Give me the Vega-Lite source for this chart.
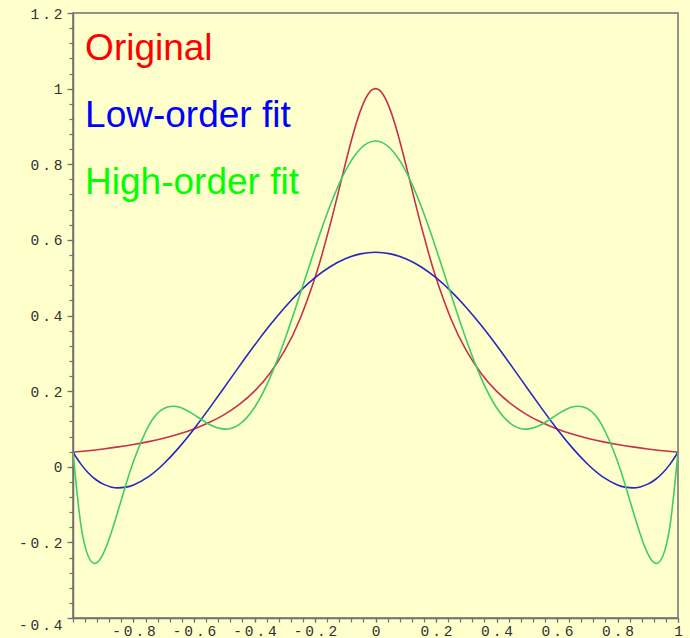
{
  "$schema": "https://vega.github.io/schema/vega-lite/v6.json",
  "autosize": {"type": "none"},
  "padding": {"left": 73, "top": 13, "right": 12, "bottom": 20},
  "width": 605,
  "height": 605,
  "background": "#ffffcc",
  "config": {
    "view": {"stroke": "#707070", "strokeWidth": 1.5, "fill": "#ffffcc"},
    "axis": {"title": null, "grid": false, "domainColor": "#707070", "domainWidth": 1.5, "tickColor": "#707070", "tickWidth": 1.2, "labelFont": "Liberation Mono", "labelFontSize": 14.5, "labelColor": "#303030", "labelFlush": false, "labelOverlap": false, "labelBound": false}
  },
  "datasets": {
    "curves": [
      {"s": "Original", "x": -1, "y": 0.0385}, {"s": "Original", "x": -0.95, "y": 0.0424}, {"s": "Original", "x": -0.9, "y": 0.0471}, {"s": "Original", "x": -0.85, "y": 0.0525}, {"s": "Original", "x": -0.8, "y": 0.0588}, {"s": "Original", "x": -0.75, "y": 0.0664}, {"s": "Original", "x": -0.7, "y": 0.0755}, {"s": "Original", "x": -0.65, "y": 0.0865}, {"s": "Original", "x": -0.6, "y": 0.1}, {"s": "Original", "x": -0.55, "y": 0.1168}, {"s": "Original", "x": -0.5, "y": 0.1379}, {"s": "Original", "x": -0.45, "y": 0.1649}, {"s": "Original", "x": -0.4, "y": 0.2}, {"s": "Original", "x": -0.35, "y": 0.2462}, {"s": "Original", "x": -0.3, "y": 0.3077}, {"s": "Original", "x": -0.25, "y": 0.3902}, {"s": "Original", "x": -0.2, "y": 0.5}, {"s": "Original", "x": -0.175, "y": 0.5664}, {"s": "Original", "x": -0.15, "y": 0.64}, {"s": "Original", "x": -0.125, "y": 0.7191}, {"s": "Original", "x": -0.1, "y": 0.8}, {"s": "Original", "x": -0.075, "y": 0.8767}, {"s": "Original", "x": -0.05, "y": 0.9412}, {"s": "Original", "x": -0.025, "y": 0.9846},
      {"s": "Original", "x": 0, "y": 1},
      {"s": "Original", "x": 0.025, "y": 0.9846}, {"s": "Original", "x": 0.05, "y": 0.9412}, {"s": "Original", "x": 0.075, "y": 0.8767}, {"s": "Original", "x": 0.1, "y": 0.8}, {"s": "Original", "x": 0.125, "y": 0.7191}, {"s": "Original", "x": 0.15, "y": 0.64}, {"s": "Original", "x": 0.175, "y": 0.5664}, {"s": "Original", "x": 0.2, "y": 0.5}, {"s": "Original", "x": 0.25, "y": 0.3902}, {"s": "Original", "x": 0.3, "y": 0.3077}, {"s": "Original", "x": 0.35, "y": 0.2462}, {"s": "Original", "x": 0.4, "y": 0.2}, {"s": "Original", "x": 0.45, "y": 0.1649}, {"s": "Original", "x": 0.5, "y": 0.1379}, {"s": "Original", "x": 0.55, "y": 0.1168}, {"s": "Original", "x": 0.6, "y": 0.1}, {"s": "Original", "x": 0.65, "y": 0.0865}, {"s": "Original", "x": 0.7, "y": 0.0755}, {"s": "Original", "x": 0.75, "y": 0.0664}, {"s": "Original", "x": 0.8, "y": 0.0588}, {"s": "Original", "x": 0.85, "y": 0.0525}, {"s": "Original", "x": 0.9, "y": 0.0471}, {"s": "Original", "x": 0.95, "y": 0.0424}, {"s": "Original", "x": 1, "y": 0.0385},

      {"s": "Low-order fit", "x": -1, "y": 0.0385}, {"s": "Low-order fit", "x": -0.975, "y": 0.0082}, {"s": "Low-order fit", "x": -0.95, "y": -0.0157}, {"s": "Low-order fit", "x": -0.925, "y": -0.0337}, {"s": "Low-order fit", "x": -0.9, "y": -0.046}, {"s": "Low-order fit", "x": -0.875, "y": -0.0533}, {"s": "Low-order fit", "x": -0.85, "y": -0.0558}, {"s": "Low-order fit", "x": -0.825, "y": -0.0539}, {"s": "Low-order fit", "x": -0.8, "y": -0.0481}, {"s": "Low-order fit", "x": -0.75, "y": -0.026}, {"s": "Low-order fit", "x": -0.7, "y": 0.0078}, {"s": "Low-order fit", "x": -0.65, "y": 0.0506}, {"s": "Low-order fit", "x": -0.6, "y": 0.1}, {"s": "Low-order fit", "x": -0.55, "y": 0.1537}, {"s": "Low-order fit", "x": -0.5, "y": 0.2097}, {"s": "Low-order fit", "x": -0.45, "y": 0.2661}, {"s": "Low-order fit", "x": -0.4, "y": 0.3212}, {"s": "Low-order fit", "x": -0.35, "y": 0.3733}, {"s": "Low-order fit", "x": -0.3, "y": 0.4213}, {"s": "Low-order fit", "x": -0.25, "y": 0.4638}, {"s": "Low-order fit", "x": -0.2, "y": 0.5}, {"s": "Low-order fit", "x": -0.15, "y": 0.529}, {"s": "Low-order fit", "x": -0.1, "y": 0.5501}, {"s": "Low-order fit", "x": -0.05, "y": 0.563},
      {"s": "Low-order fit", "x": 0, "y": 0.5673},
      {"s": "Low-order fit", "x": 0.05, "y": 0.563}, {"s": "Low-order fit", "x": 0.1, "y": 0.5501}, {"s": "Low-order fit", "x": 0.15, "y": 0.529}, {"s": "Low-order fit", "x": 0.2, "y": 0.5}, {"s": "Low-order fit", "x": 0.25, "y": 0.4638}, {"s": "Low-order fit", "x": 0.3, "y": 0.4213}, {"s": "Low-order fit", "x": 0.35, "y": 0.3733}, {"s": "Low-order fit", "x": 0.4, "y": 0.3212}, {"s": "Low-order fit", "x": 0.45, "y": 0.2661}, {"s": "Low-order fit", "x": 0.5, "y": 0.2097}, {"s": "Low-order fit", "x": 0.55, "y": 0.1537}, {"s": "Low-order fit", "x": 0.6, "y": 0.1}, {"s": "Low-order fit", "x": 0.65, "y": 0.0506}, {"s": "Low-order fit", "x": 0.7, "y": 0.0078}, {"s": "Low-order fit", "x": 0.75, "y": -0.026}, {"s": "Low-order fit", "x": 0.8, "y": -0.0481}, {"s": "Low-order fit", "x": 0.825, "y": -0.0539}, {"s": "Low-order fit", "x": 0.85, "y": -0.0558}, {"s": "Low-order fit", "x": 0.875, "y": -0.0533}, {"s": "Low-order fit", "x": 0.9, "y": -0.046}, {"s": "Low-order fit", "x": 0.925, "y": -0.0337}, {"s": "Low-order fit", "x": 0.95, "y": -0.0157}, {"s": "Low-order fit", "x": 0.975, "y": 0.0082}, {"s": "Low-order fit", "x": 1, "y": 0.0385},

      {"s": "High-order fit", "x": -1, "y": 0.0385}, {"s": "High-order fit", "x": -0.975, "y": -0.148}, {"s": "High-order fit", "x": -0.95, "y": -0.2361}, {"s": "High-order fit", "x": -0.925, "y": -0.2554}, {"s": "High-order fit", "x": -0.9, "y": -0.23}, {"s": "High-order fit", "x": -0.875, "y": -0.1781}, {"s": "High-order fit", "x": -0.85, "y": -0.1138}, {"s": "High-order fit", "x": -0.825, "y": -0.0472}, {"s": "High-order fit", "x": -0.8, "y": 0.0147}, {"s": "High-order fit", "x": -0.75, "y": 0.1084}, {"s": "High-order fit", "x": -0.7, "y": 0.154}, {"s": "High-order fit", "x": -0.65, "y": 0.1581}, {"s": "High-order fit", "x": -0.6, "y": 0.1377}, {"s": "High-order fit", "x": -0.55, "y": 0.1123}, {"s": "High-order fit", "x": -0.5, "y": 0.0995}, {"s": "High-order fit", "x": -0.45, "y": 0.1122}, {"s": "High-order fit", "x": -0.4, "y": 0.1566}, {"s": "High-order fit", "x": -0.35, "y": 0.233}, {"s": "High-order fit", "x": -0.3, "y": 0.3356}, {"s": "High-order fit", "x": -0.25, "y": 0.4546}, {"s": "High-order fit", "x": -0.2, "y": 0.5775}, {"s": "High-order fit", "x": -0.15, "y": 0.6907}, {"s": "High-order fit", "x": -0.1, "y": 0.782}, {"s": "High-order fit", "x": -0.05, "y": 0.8411},
      {"s": "High-order fit", "x": 0, "y": 0.8615},
      {"s": "High-order fit", "x": 0.05, "y": 0.8411}, {"s": "High-order fit", "x": 0.1, "y": 0.782}, {"s": "High-order fit", "x": 0.15, "y": 0.6907}, {"s": "High-order fit", "x": 0.2, "y": 0.5775}, {"s": "High-order fit", "x": 0.25, "y": 0.4546}, {"s": "High-order fit", "x": 0.3, "y": 0.3356}, {"s": "High-order fit", "x": 0.35, "y": 0.233}, {"s": "High-order fit", "x": 0.4, "y": 0.1566}, {"s": "High-order fit", "x": 0.45, "y": 0.1122}, {"s": "High-order fit", "x": 0.5, "y": 0.0995}, {"s": "High-order fit", "x": 0.55, "y": 0.1123}, {"s": "High-order fit", "x": 0.6, "y": 0.1377}, {"s": "High-order fit", "x": 0.65, "y": 0.1581}, {"s": "High-order fit", "x": 0.7, "y": 0.154}, {"s": "High-order fit", "x": 0.75, "y": 0.1084}, {"s": "High-order fit", "x": 0.8, "y": 0.0147}, {"s": "High-order fit", "x": 0.825, "y": -0.0472}, {"s": "High-order fit", "x": 0.85, "y": -0.1138}, {"s": "High-order fit", "x": 0.875, "y": -0.1781}, {"s": "High-order fit", "x": 0.9, "y": -0.23}, {"s": "High-order fit", "x": 0.925, "y": -0.2554}, {"s": "High-order fit", "x": 0.95, "y": -0.2361}, {"s": "High-order fit", "x": 0.975, "y": -0.148}, {"s": "High-order fit", "x": 1, "y": 0.0385}
    ],
    "labels": [
      {"s": "Original", "x": -0.96, "y": 1.075},
      {"s": "Low-order fit", "x": -0.96, "y": 0.8976},
      {"s": "High-order fit", "x": -0.96, "y": 0.7222}
    ]
  },
  "layer": [
    {
      "data": {"name": "curves"},
      "mark": {"type": "line", "interpolate": "natural", "strokeWidth": 1.6, "clip": true},
      "encoding": {
        "x": {"field": "x", "type": "quantitative",
          "scale": {"domain": [-1, 1], "nice": false, "zero": false},
          "axis": {
            "orient": "bottom",
            "labelOverlap": false,
            "labelFlush": false,
            "values": [-0.8, -0.6, -0.4, -0.2, 0, 0.2, 0.4, 0.6, 0.8, 1],
            "labelExpr": "join(split(replace(format(datum.value, '~g'), '−', '-'), ''), '\u2009')",
            "tickSize": 4,
            "labelPadding": 2
          }
        },
        "y": {"field": "y", "type": "quantitative",
          "scale": {"domain": [-0.4, 1.2], "nice": false, "zero": false},
          "axis": {
            "orient": "left",
            "labelOverlap": false,
            "values": [-0.4, -0.2, 0, 0.2, 0.4, 0.6, 0.8, 1, 1.2],
            "labelExpr": "join(split(replace(format(datum.value, '~g'), '−', '-'), ''), '\u2009')",
            "tickSize": 6,
            "labelOffset": {"condition": {"test": "datum.value < -0.39", "value": 7}, "value": 1},
            "labelPadding": 5
          }
        },
        "color": {"field": "s", "type": "nominal",
          "scale": {"domain": ["Original", "Low-order fit", "High-order fit"], "range": ["#c8304e", "#2828c0", "#40cc68"]},
          "legend": null}
      }
    },
    {
      "data": {"name": "labels"},
      "mark": {"type": "text", "font": "Liberation Sans", "fontSize": 37, "align": "left", "baseline": "alphabetic"},
      "encoding": {
        "x": {"field": "x", "type": "quantitative",
          "axis": {"orient": "bottom", "labels": false, "domain": false, "tickSize": 4,
            "values": [-1, -0.96, -0.92, -0.88, -0.84, -0.8, -0.76, -0.72, -0.68, -0.64, -0.6, -0.56, -0.52, -0.48, -0.44, -0.4, -0.36, -0.32, -0.28, -0.24, -0.2, -0.16, -0.12, -0.08, -0.04, 0, 0.04, 0.08, 0.12, 0.16, 0.2, 0.24, 0.28, 0.32, 0.36, 0.4, 0.44, 0.48, 0.52, 0.56, 0.6, 0.64, 0.68, 0.72, 0.76, 0.8, 0.84, 0.88, 0.92, 0.96, 1]}},
        "y": {"field": "y", "type": "quantitative",
          "axis": {"orient": "left", "labels": false, "domain": false, "tickSize": 4,
            "values": [-0.4, -0.36, -0.32, -0.28, -0.24, -0.2, -0.16, -0.12, -0.08, -0.04, 0, 0.04, 0.08, 0.12, 0.16, 0.2, 0.24, 0.28, 0.32, 0.36, 0.4, 0.44, 0.48, 0.52, 0.56, 0.6, 0.64, 0.68, 0.72, 0.76, 0.8, 0.84, 0.88, 0.92, 0.96, 1, 1.04, 1.08, 1.12, 1.16, 1.2]}},
        "text": {"field": "s"},
        "color": {"field": "s", "type": "nominal",
          "scale": {"domain": ["Original", "Low-order fit", "High-order fit"], "range": ["#ff0000", "#0000ff", "#00ff00"]},
          "legend": null}
      }
    }
  ],
  "resolve": {"scale": {"color": "independent"}, "axis": {"x": "independent", "y": "independent"}}
}
